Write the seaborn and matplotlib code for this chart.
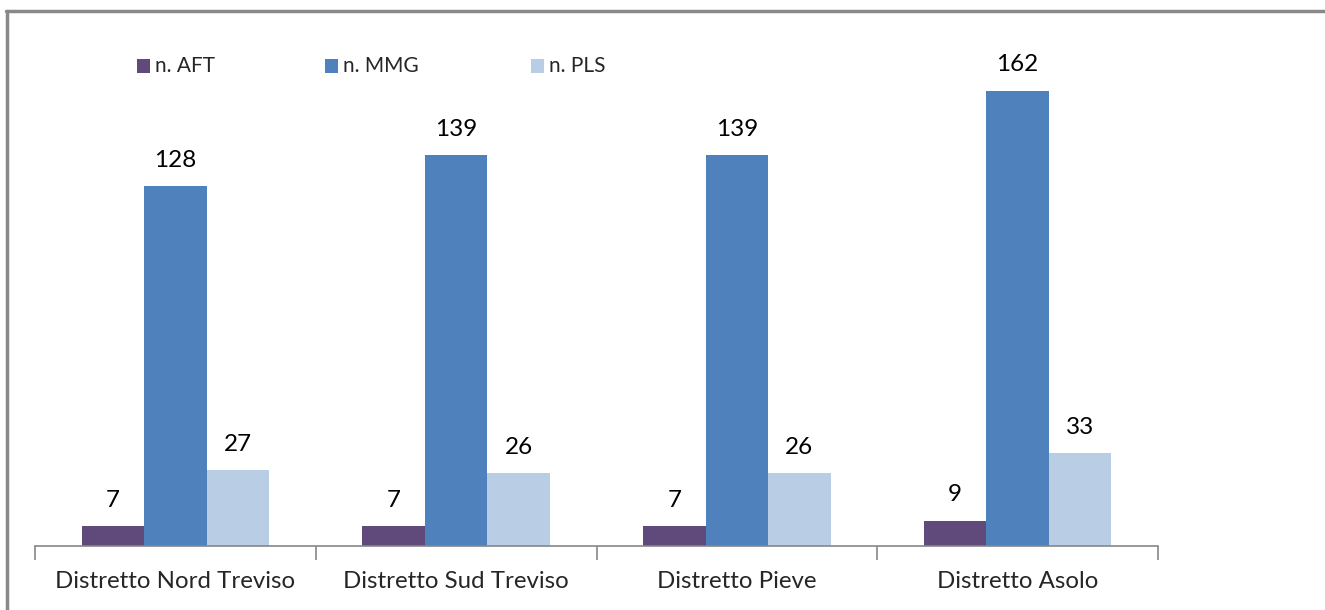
import matplotlib.pyplot as plt
import seaborn as sns
import pandas as pd
from matplotlib.patches import Rectangle
from matplotlib.lines import Line2D

districts = ["Distretto Nord Treviso", "Distretto Sud Treviso", "Distretto Pieve", "Distretto Asolo"]
series = ["n. AFT", "n. MMG", "n. PLS"]
n_aft = [7, 7, 7, 9]
n_mmg = [128, 139, 139, 162]
n_pls = [27, 26, 26, 33]
colors = ["#604A7B", "#4F81BD", "#B9CDE5"]

df = pd.DataFrame({
    "district": districts * 3,
    "series": [series[0]] * 4 + [series[1]] * 4 + [series[2]] * 4,
    "value": n_aft + n_mmg + n_pls,
})

sns.set_style("white")
plt.rcParams["font.family"] = ["Lato", "DejaVu Sans"]

W, H = 1325, 610
fig = plt.figure(figsize=(W / 100, H / 100), dpi=100)
ax = fig.add_axes([35 / W, (H - 546) / H, (1158 - 35) / W, (546 - 40) / H])

sns.barplot(data=df, x="district", y="value", hue="series", palette=colors,
            width=0.667, gap=0, saturation=1, linewidth=0, ax=ax, legend=False)

for cont in ax.containers:
    ax.bar_label(cont, padding=11, fontsize=17.5, color="#000000")

ax.set_ylim(0, 180)
ax.set_xlim(-0.5, len(districts) - 0.5)
ax.set_xlabel("")
ax.set_ylabel("")
ax.set_yticks([])
for s in ["top", "right", "left"]:
    ax.spines[s].set_visible(False)
ax.spines["bottom"].set_color("#868686")
ax.spines["bottom"].set_linewidth(1.2)

ax.set_xticks(range(len(districts)))
ax.set_xticklabels(districts, fontsize=17.3)
ax.tick_params(axis="x", which="major", length=0, pad=18)
ax.set_xticks([i - 0.5 for i in range(len(districts) + 1)], minor=True)
ax.tick_params(axis="x", which="minor", length=10, width=1.2, color="#868686", bottom=True)

# legend along the top
legend_x = [137, 325, 531]
for name, col, xp in zip(series, colors, legend_x):
    fig.add_artist(Rectangle((xp / W, (H - 73) / H), 13 / W, 14 / H, facecolor=col,
                             edgecolor="none", transform=fig.transFigure))
    fig.text((xp + 18) / W, (H - 66) / H, name, fontsize=15, va="center", ha="left")

# chart frame (only top and left edges visible)
fig.add_artist(Line2D([6.5 / W, 6.5 / W], [0, (H - 11) / H], color="#898989",
                      linewidth=2.5, transform=fig.transFigure))
fig.add_artist(Line2D([5.5 / W, 1], [(H - 11) / H, (H - 11) / H], color="#898989",
                      linewidth=2.5, transform=fig.transFigure))

fig.savefig("out.png", dpi=100)
